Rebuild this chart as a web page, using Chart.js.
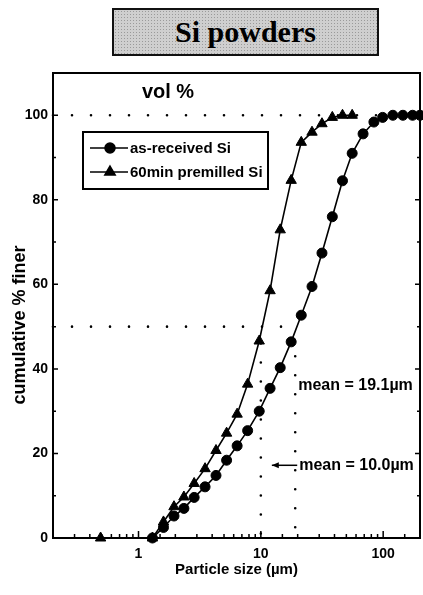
<!DOCTYPE html>
<html>
<head>
<meta charset="utf-8">
<script src="https://cdn.jsdelivr.net/npm/chart.js"></script>
<style>
  body { margin: 0; background: #fff; }
  #wrap { position: relative; width: 423px; height: 595px; }
  #title {
    position: absolute; left: 112px; top: 8px; width: 263px; height: 44px;
    border: 2px solid #111;
    background-color: #cfcfcf;
    background-image: radial-gradient(#9a9a9a 0.8px, transparent 1px);
    background-size: 3px 3px;
    font: bold 30px "Liberation Serif", "Times New Roman", serif;
    color: #000; text-align: center; line-height: 44px;
  }
</style>
</head>
<body>
<div id="wrap">
  <div id="title">Si powders</div>
  <canvas id="myChart" width="423" height="595"></canvas>
</div>
<script>
// as-received Si (circles)
var receivedSize = [1.3, 1.6, 1.95, 2.35, 2.85, 3.5, 4.3, 5.25, 6.4, 7.8, 9.7, 11.9, 14.4, 17.7,
                    21.4, 26.2, 31.6, 38.4, 46.5, 55.8, 68.5, 84, 99, 120, 145, 174, 200];
var receivedCum  = [0, 2.5, 5.2, 7.0, 9.6, 12.1, 14.8, 18.4, 21.8, 25.4, 30.0, 35.4, 40.3, 46.4,
                    52.7, 59.5, 67.4, 76.0, 84.5, 91.0, 95.6, 98.4, 99.5, 100, 100, 100, 100];
// 60min premilled Si (triangles)
var milledSize = [0.49, 1.3, 1.6, 1.95, 2.35, 2.85, 3.5, 4.3, 5.25, 6.4, 7.8, 9.7, 11.9, 14.4,
                  17.7, 21.4, 26.2, 31.6, 38.4, 46.5, 55.8];
var milledCum  = [0, 0, 3.8, 7.4, 9.7, 12.9, 16.4, 20.7, 24.8, 29.3, 36.4, 46.6, 58.5, 72.9,
                  84.6, 93.6, 96.0, 98.0, 99.5, 100, 100];
// reference lines and mean values
var meanMilled = 10.0;
var meanReceived = 19.1;
var xRange = [0.2, 200];
var yRange = [0, 110];
var xLabels = [1, 10, 100];
var yLabels = [0, 20, 40, 60, 80, 100];

var FONT = "'Liberation Sans', Arial, sans-serif";
Chart.defaults.font.family = FONT;
Chart.defaults.font.weight = 'bold';
Chart.defaults.color = '#000';

function pts(xs, ys) {
  return xs.map(function (x, i) { return { x: x, y: ys[i] }; });
}
function dotted(data) {
  return {
    data: data, borderColor: '#000', borderWidth: 2.6, borderDash: [0, 19],
    borderCapStyle: 'round', pointRadius: 0, fill: false, clip: false
  };
}

var isDecade = function (v) {
  var l = Math.log10(v);
  return Math.abs(l - Math.round(l)) < 1e-6;
};

// inward ticks, box, legend and annotations
var decor = {
  id: 'decor',
  afterDraw: function (chart) {
    var ctx = chart.ctx, a = chart.chartArea;
    var xs = chart.scales.x, ys = chart.scales.y;
    ctx.save();
    ctx.strokeStyle = '#000';
    ctx.fillStyle = '#000';
    ctx.lineWidth = 2;
    ctx.beginPath();
    ctx.moveTo(a.left, a.top); ctx.lineTo(a.right, a.top); ctx.lineTo(a.right, a.bottom);
    ctx.stroke();

    ctx.lineWidth = 1.5;
    ctx.beginPath();
    xs.ticks.forEach(function (t) {
      var px = xs.getPixelForValue(t.value);
      if (px < a.left + 1 || px > a.right - 1) return;
      var len = isDecade(t.value) ? 7 : 4;
      ctx.moveTo(px, a.bottom); ctx.lineTo(px, a.bottom - len);
    });
    for (var v = 10; v <= 100; v += 10) {
      var py = ys.getPixelForValue(v);
      var l = v % 20 === 0 ? 5 : 3;
      ctx.moveTo(a.left, py); ctx.lineTo(a.left + l, py);
      ctx.moveTo(a.right, py); ctx.lineTo(a.right - l, py);
    }
    ctx.stroke();

    // y axis title
    ctx.save();
    ctx.translate(20, 325);
    ctx.rotate(-Math.PI / 2);
    ctx.font = 'bold 18px ' + FONT;
    ctx.textAlign = 'center';
    ctx.textBaseline = 'middle';
    ctx.fillText('cumulative % finer', 0, 0);
    ctx.restore();

    // heading inside the plot
    ctx.font = 'bold 20px ' + FONT;
    ctx.textAlign = 'center';
    ctx.textBaseline = 'middle';
    ctx.fillText('vol %', 168, 92);

    // legend
    ctx.lineWidth = 2;
    ctx.strokeRect(83, 132, 185, 57);
    ctx.lineWidth = 1.5;
    ctx.font = 'bold 15px ' + FONT;
    ctx.textAlign = 'left';
    var rows = [[148, 'circle', chart.data.datasets[0].label],
                [172, 'triangle', chart.data.datasets[1].label]];
    rows.forEach(function (r) {
      ctx.beginPath(); ctx.moveTo(90, r[0]); ctx.lineTo(128, r[0]); ctx.stroke();
      Chart.helpers.drawPoint(ctx, { pointStyle: r[1], radius: r[1] === 'circle' ? 5 : 6, rotation: 0, borderWidth: 1 }, 110, r[0]);
      ctx.fillText(r[2], 130, r[0] + 1);
    });

    // mean annotations
    ctx.font = 'bold 16px ' + FONT;
    var x1 = xs.getPixelForValue(meanReceived) + 3;
    ctx.fillText('mean = ' + meanReceived.toFixed(1) + 'µm', x1, ys.getPixelForValue(36));
    var y2 = ys.getPixelForValue(17.2);
    ctx.fillText('mean = ' + meanMilled.toFixed(1) + 'µm', x1 + 1, y2);
    var ax = xs.getPixelForValue(meanMilled) + 11;
    ctx.beginPath(); ctx.moveTo(x1 - 1, y2); ctx.lineTo(ax, y2); ctx.stroke();
    ctx.beginPath(); ctx.moveTo(ax, y2); ctx.lineTo(ax + 7, y2 - 3); ctx.lineTo(ax + 7, y2 + 3); ctx.closePath(); ctx.fill();
    ctx.restore();
  }
};

var ctx = document.getElementById('myChart').getContext('2d');
var myChart = new Chart(ctx, {
  type: 'line',
  data: {
    datasets: [
      {
        label: 'as-received Si', data: pts(receivedSize, receivedCum),
        borderColor: '#000', backgroundColor: '#000', borderWidth: 1.6,
        pointStyle: 'circle', pointRadius: 5, pointBorderWidth: 1, clip: false
      },
      {
        label: '60min premilled Si', data: pts(milledSize, milledCum),
        borderColor: '#000', backgroundColor: '#000', borderWidth: 1.6,
        pointStyle: 'triangle', pointRadius: 6, pointBorderWidth: 1, clip: false
      },
      dotted([{ x: xRange[0], y: 100 }, { x: xRange[1], y: 100 }]),
      dotted([{ x: xRange[0], y: 50 }, { x: meanReceived, y: 50 }]),
      dotted([{ x: meanMilled, y: 46 }, { x: meanMilled, y: 0 }]),
      dotted([{ x: meanReceived, y: 43 }, { x: meanReceived, y: 0 }])
    ]
  },
  options: {
    responsive: false,
    animation: false,
    layout: { autoPadding: false, padding: { top: 73, right: 3, left: 0, bottom: 0 } },
    plugins: { legend: { display: false }, tooltip: { enabled: false } },
    elements: { line: { tension: 0 } },
    scales: {
      x: {
        type: 'logarithmic', min: xRange[0], max: xRange[1],
        grid: { display: false, drawTicks: false },
        border: { display: true, color: '#000', width: 2 },
        ticks: {
          autoSkip: false, maxRotation: 0, padding: 8, font: { size: 14 },
          callback: function (v) { return xLabels.indexOf(Math.round(v * 1000) / 1000) >= 0 ? String(Math.round(v)) : ''; }
        },
        title: { display: true, text: 'Particle size (µm)', font: { size: 15 }, padding: { top: 0, bottom: 16 } },
        afterFit: function (s) { s.height = 57; s.paddingRight = 0; s.paddingLeft = 0; }
      },
      y: {
        min: yRange[0], max: yRange[1],
        grid: { display: false, drawTicks: false },
        border: { display: true, color: '#000', width: 2 },
        ticks: {
          stepSize: 20, padding: 5, font: { size: 14 },
          callback: function (v) { return yLabels.indexOf(v) >= 0 ? String(v) : ''; }
        },
        afterFit: function (s) { s.width = 53; }
      }
    }
  },
  plugins: [decor]
});
</script>
</body>
</html>
